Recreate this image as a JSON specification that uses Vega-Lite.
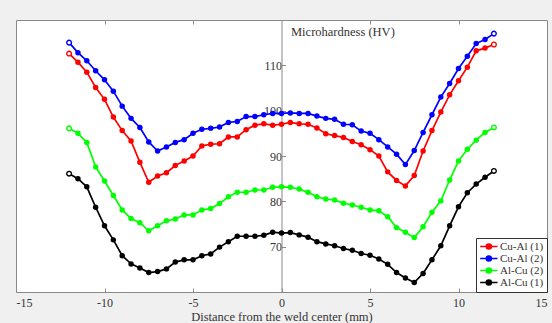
{
  "$schema": "https://vega.github.io/schema/vega-lite/v6.json",
  "width": 531,
  "height": 272,
  "autosize": "none",
  "padding": {"left": 16, "top": 20, "right": 5, "bottom": 31},
  "background": "#f0f0f0",
  "config": {
    "view": {"fill": "white", "stroke": "#8a8a8a", "strokeWidth": 1},
    "font": "Liberation Serif",
    "axis": {
      "labelFont": "Liberation Serif", "labelFontSize": 12, "labelColor": "#333333",
      "titleFont": "Liberation Serif", "titleFontSize": 12.5, "titleFontWeight": "normal",
      "titleColor": "#333333", "grid": false, "tickColor": "#8a8a8a", "domainColor": "#8a8a8a"
    },
    "legend": {"labelFont": "Liberation Serif", "labelFontSize": 11, "labelColor": "#333333"}
  },
  "resolve": {"axis": {"x": "independent", "y": "independent"}},
  "data": {"values": [
    {"x": -12, "Cu-Al (1)": 112.6, "Cu-Al (2)": 115.0, "Al-Cu (2)": 96.1, "Al-Cu (1)": 86.1},
    {"x": -11.5, "Cu-Al (1)": 110.7, "Cu-Al (2)": 112.8, "Al-Cu (2)": 95.0, "Al-Cu (1)": 85.0},
    {"x": -11, "Cu-Al (1)": 108.5, "Cu-Al (2)": 111.0, "Al-Cu (2)": 93.0, "Al-Cu (1)": 83.2},
    {"x": -10.5, "Cu-Al (1)": 105.1, "Cu-Al (2)": 108.8, "Al-Cu (2)": 87.6, "Al-Cu (1)": 78.7},
    {"x": -10, "Cu-Al (1)": 102.5, "Cu-Al (2)": 106.8, "Al-Cu (2)": 84.5, "Al-Cu (1)": 74.6},
    {"x": -9.5, "Cu-Al (1)": 98.6, "Cu-Al (2)": 104.3, "Al-Cu (2)": 81.3, "Al-Cu (1)": 71.5},
    {"x": -9, "Cu-Al (1)": 95.6, "Cu-Al (2)": 101.0, "Al-Cu (2)": 78.1, "Al-Cu (1)": 68.0},
    {"x": -8.5, "Cu-Al (1)": 93.3, "Cu-Al (2)": 98.3, "Al-Cu (2)": 76.2, "Al-Cu (1)": 66.2},
    {"x": -8, "Cu-Al (1)": 88.6, "Cu-Al (2)": 96.3, "Al-Cu (2)": 75.3, "Al-Cu (1)": 65.3},
    {"x": -7.5, "Cu-Al (1)": 84.2, "Cu-Al (2)": 93.1, "Al-Cu (2)": 73.5, "Al-Cu (1)": 64.3},
    {"x": -7, "Cu-Al (1)": 85.6, "Cu-Al (2)": 91.1, "Al-Cu (2)": 74.6, "Al-Cu (1)": 64.5},
    {"x": -6.5, "Cu-Al (1)": 86.3, "Cu-Al (2)": 92.0, "Al-Cu (2)": 75.7, "Al-Cu (1)": 65.1},
    {"x": -6, "Cu-Al (1)": 87.9, "Cu-Al (2)": 93.0, "Al-Cu (2)": 76.1, "Al-Cu (1)": 66.6},
    {"x": -5.5, "Cu-Al (1)": 88.9, "Cu-Al (2)": 93.6, "Al-Cu (2)": 77.0, "Al-Cu (1)": 67.1},
    {"x": -5, "Cu-Al (1)": 90.0, "Cu-Al (2)": 95.0, "Al-Cu (2)": 77.0, "Al-Cu (1)": 67.1},
    {"x": -4.5, "Cu-Al (1)": 92.2, "Cu-Al (2)": 95.9, "Al-Cu (2)": 78.1, "Al-Cu (1)": 68.0},
    {"x": -4, "Cu-Al (1)": 92.6, "Cu-Al (2)": 96.1, "Al-Cu (2)": 78.4, "Al-Cu (1)": 68.4},
    {"x": -3.5, "Cu-Al (1)": 92.7, "Cu-Al (2)": 96.4, "Al-Cu (2)": 79.5, "Al-Cu (1)": 69.9},
    {"x": -3, "Cu-Al (1)": 94.2, "Cu-Al (2)": 97.4, "Al-Cu (2)": 81.0, "Al-Cu (1)": 71.1},
    {"x": -2.5, "Cu-Al (1)": 94.2, "Cu-Al (2)": 97.6, "Al-Cu (2)": 82.0, "Al-Cu (1)": 72.3},
    {"x": -2, "Cu-Al (1)": 95.8, "Cu-Al (2)": 98.7, "Al-Cu (2)": 82.0, "Al-Cu (1)": 72.3},
    {"x": -1.5, "Cu-Al (1)": 96.8, "Cu-Al (2)": 98.7, "Al-Cu (2)": 82.5, "Al-Cu (1)": 72.3},
    {"x": -1, "Cu-Al (1)": 97.1, "Cu-Al (2)": 99.1, "Al-Cu (2)": 82.5, "Al-Cu (1)": 72.5},
    {"x": -0.5, "Cu-Al (1)": 96.8, "Cu-Al (2)": 99.4, "Al-Cu (2)": 83.1, "Al-Cu (1)": 73.2},
    {"x": 0, "Cu-Al (1)": 97.0, "Cu-Al (2)": 99.4, "Al-Cu (2)": 83.2, "Al-Cu (1)": 73.0},
    {"x": 0.5, "Cu-Al (1)": 97.4, "Cu-Al (2)": 99.5, "Al-Cu (2)": 83.1, "Al-Cu (1)": 73.1},
    {"x": 1, "Cu-Al (1)": 97.1, "Cu-Al (2)": 99.4, "Al-Cu (2)": 82.7, "Al-Cu (1)": 72.6},
    {"x": 1.5, "Cu-Al (1)": 97.0, "Cu-Al (2)": 99.4, "Al-Cu (2)": 82.0, "Al-Cu (1)": 72.1},
    {"x": 2, "Cu-Al (1)": 96.2, "Cu-Al (2)": 98.8, "Al-Cu (2)": 81.0, "Al-Cu (1)": 71.1},
    {"x": 2.5, "Cu-Al (1)": 94.9, "Cu-Al (2)": 98.3, "Al-Cu (2)": 80.5, "Al-Cu (1)": 70.6},
    {"x": 3, "Cu-Al (1)": 94.5, "Cu-Al (2)": 98.1, "Al-Cu (2)": 80.3, "Al-Cu (1)": 70.2},
    {"x": 3.5, "Cu-Al (1)": 94.1, "Cu-Al (2)": 97.0, "Al-Cu (2)": 79.6, "Al-Cu (1)": 69.6},
    {"x": 4, "Cu-Al (1)": 93.2, "Cu-Al (2)": 96.9, "Al-Cu (2)": 79.2, "Al-Cu (1)": 69.2},
    {"x": 4.5, "Cu-Al (1)": 92.5, "Cu-Al (2)": 95.5, "Al-Cu (2)": 78.7, "Al-Cu (1)": 68.5},
    {"x": 5, "Cu-Al (1)": 91.4, "Cu-Al (2)": 95.0, "Al-Cu (2)": 78.1, "Al-Cu (1)": 68.1},
    {"x": 5.5, "Cu-Al (1)": 90.0, "Cu-Al (2)": 93.6, "Al-Cu (2)": 77.9, "Al-Cu (1)": 67.3},
    {"x": 6, "Cu-Al (1)": 86.5, "Cu-Al (2)": 92.0, "Al-Cu (2)": 76.6, "Al-Cu (1)": 66.1},
    {"x": 6.5, "Cu-Al (1)": 84.6, "Cu-Al (2)": 90.4, "Al-Cu (2)": 74.2, "Al-Cu (1)": 64.3},
    {"x": 7, "Cu-Al (1)": 83.4, "Cu-Al (2)": 88.1, "Al-Cu (2)": 73.2, "Al-Cu (1)": 63.1},
    {"x": 7.5, "Cu-Al (1)": 85.7, "Cu-Al (2)": 91.2, "Al-Cu (2)": 72.0, "Al-Cu (1)": 62.1},
    {"x": 8, "Cu-Al (1)": 91.1, "Cu-Al (2)": 95.2, "Al-Cu (2)": 74.4, "Al-Cu (1)": 64.1},
    {"x": 8.5, "Cu-Al (1)": 95.6, "Cu-Al (2)": 99.1, "Al-Cu (2)": 77.6, "Al-Cu (1)": 67.1},
    {"x": 9, "Cu-Al (1)": 99.7, "Cu-Al (2)": 103.0, "Al-Cu (2)": 80.1, "Al-Cu (1)": 70.2},
    {"x": 9.5, "Cu-Al (1)": 103.5, "Cu-Al (2)": 106.0, "Al-Cu (2)": 84.7, "Al-Cu (1)": 74.6},
    {"x": 10, "Cu-Al (1)": 106.6, "Cu-Al (2)": 109.3, "Al-Cu (2)": 88.9, "Al-Cu (1)": 78.8},
    {"x": 10.5, "Cu-Al (1)": 109.6, "Cu-Al (2)": 112.0, "Al-Cu (2)": 91.5, "Al-Cu (1)": 81.9},
    {"x": 11, "Cu-Al (1)": 113.2, "Cu-Al (2)": 114.8, "Al-Cu (2)": 93.5, "Al-Cu (1)": 83.8},
    {"x": 11.5, "Cu-Al (1)": 113.8, "Cu-Al (2)": 115.7, "Al-Cu (2)": 95.2, "Al-Cu (1)": 85.3},
    {"x": 12, "Cu-Al (1)": 114.6, "Cu-Al (2)": 117.0, "Al-Cu (2)": 96.3, "Al-Cu (1)": 86.7}
  ]},
  "transform": [
    {"fold": ["Cu-Al (1)", "Cu-Al (2)", "Al-Cu (2)", "Al-Cu (1)"], "as": ["series", "v"]}
  ],
  "encoding": {
    "x": {
      "field": "x", "type": "quantitative",
      "scale": {"domain": [-15, 15], "nice": false, "zero": false},
      "axis": null
    },
    "y": {
      "field": "v", "type": "quantitative",
      "scale": {"domain": [60, 120], "nice": false, "zero": false},
      "axis": null
    },
    "color": {
      "field": "series", "type": "nominal",
      "scale": {
        "domain": ["Cu-Al (1)", "Cu-Al (2)", "Al-Cu (2)", "Al-Cu (1)"],
        "range": ["#ff0000", "#0000ff", "#00ff00", "#000000"]
      },
      "legend": {
        "title": null,
        "orient": "bottom-right",
        "offset": 0,
        "padding": 3,
        "rowPadding": -2,
        "fillColor": "white",
        "strokeColor": "#333333",
        "symbolType": "M-1,0H3M0.42,0A0.58,0.58 0 1 1 1.58,0A0.58,0.58 0 1 1 0.42,0Z",
        "symbolSize": 75,
        "symbolStrokeWidth": 1.6,
        "labelOffset": 10,
        "encode": {
          "symbols": {"update": {
            "fill": {"scale": "color", "field": "value"},
            "stroke": {"scale": "color", "field": "value"}
          }}
        }
      }
    }
  },
  "layer": [
    {
      "mark": {"type": "line", "strokeWidth": 1.7},
      "encoding": {
        "x": {
          "field": "x", "type": "quantitative",
          "axis": {
            "orient": "bottom",
            "values": [-15, -10, -5, 0, 5, 10, 15],
            "labelExpr": "replace(datum.label, '−', '-')",
            "domain": false,
            "tickSize": -4,
            "labelPadding": 9,
            "title": "Distance from the weld center (mm)",
            "titleFontWeight": "normal",
            "titlePadding": 2
          }
        },
        "y": {
          "field": "v", "type": "quantitative",
          "axis": {
            "orient": "left",
            "offset": -265.5,
            "values": [70, 80, 90, 100, 110],
            "domain": true,
            "tickSize": -4,
            "labelPadding": 4,
            "title": "Microhardness (HV)",
            "titleFontWeight": "normal",
            "titleAngle": 0, "titleAlign": "left",
            "titleBaseline": "alphabetic", "titleX": 9, "titleY": 15
          }
        }
      }
    },
    {
      "transform": [{"filter": "abs(datum.x) < 12"}],
      "mark": {"type": "point", "filled": true, "size": 30, "opacity": 1}
    },
    {
      "transform": [{"filter": "abs(datum.x) == 12"}],
      "mark": {"type": "point", "filled": false, "fill": "white", "size": 22, "strokeWidth": 1.4, "opacity": 1}
    },
    {
      "mark": {"type": "rule", "opacity": 0},
      "encoding": {
        "x": {
          "field": "x", "type": "quantitative",
          "axis": {
            "orient": "top", "values": [-10, -5, 5, 10],
            "domain": false, "labels": false,
            "tickSize": -4, "title": null
          }
        },
        "y": null,
        "color": null
      }
    }
  ]
}
